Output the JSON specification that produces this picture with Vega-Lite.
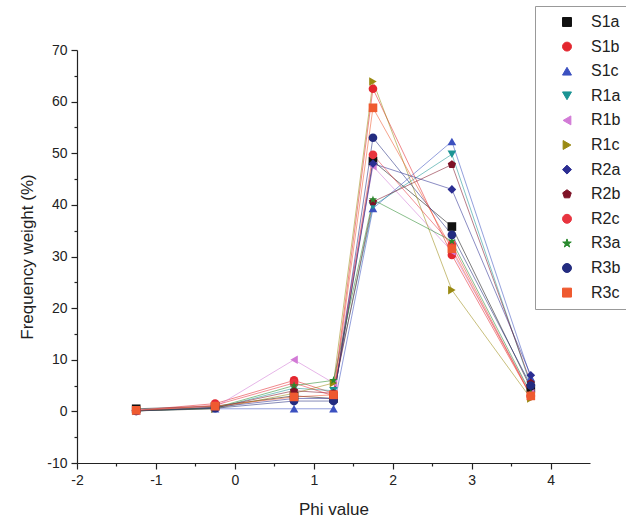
{
  "$schema": "https://vega.github.io/schema/vega-lite/v6.json",
  "autosize": {"type": "none"},
  "padding": {"left": 77, "top": 50, "right": 36, "bottom": 65},
  "width": 513,
  "height": 413,
  "background": "#ffffff",
  "config": {
    "view": {"stroke": null},
    "font": "Liberation Sans",
    "axis": {"domainColor": "#222", "tickColor": "#222", "labelColor": "#222", "titleColor": "#222", "labelFontSize": 14, "titleFontSize": 17, "titleFontWeight": "normal", "grid": false, "domainWidth": 1.2, "tickWidth": 1.2}
  },
  "datasets": {
    "d": [
      {"s":"S1a","x":-1.25,"y":0.5},{"s":"S1a","x":-0.25,"y":1.0},{"s":"S1a","x":0.75,"y":3.0},{"s":"S1a","x":1.25,"y":2.5},{"s":"S1a","x":1.75,"y":48.5},{"s":"S1a","x":2.75,"y":35.8},{"s":"S1a","x":3.75,"y":4.5},
      {"s":"S1b","x":-1.25,"y":0.2},{"s":"S1b","x":-0.25,"y":1.5},{"s":"S1b","x":0.75,"y":6.0},{"s":"S1b","x":1.25,"y":3.5},{"s":"S1b","x":1.75,"y":62.5},{"s":"S1b","x":2.75,"y":30.3},{"s":"S1b","x":3.75,"y":3.0},
      {"s":"S1c","x":-1.25,"y":0.1},{"s":"S1c","x":-0.25,"y":0.5},{"s":"S1c","x":0.75,"y":0.5},{"s":"S1c","x":1.25,"y":0.5},{"s":"S1c","x":1.75,"y":39.3},{"s":"S1c","x":2.75,"y":52.3},{"s":"S1c","x":3.75,"y":6.5},
      {"s":"R1a","x":-1.25,"y":0.1},{"s":"R1a","x":-0.25,"y":0.6},{"s":"R1a","x":0.75,"y":4.5},{"s":"R1a","x":1.25,"y":4.0},{"s":"R1a","x":1.75,"y":39.8},{"s":"R1a","x":2.75,"y":49.8},{"s":"R1a","x":3.75,"y":5.0},
      {"s":"R1b","x":-1.25,"y":0.1},{"s":"R1b","x":-0.25,"y":0.8},{"s":"R1b","x":0.75,"y":10.0},{"s":"R1b","x":1.25,"y":5.5},{"s":"R1b","x":1.75,"y":47.5},{"s":"R1b","x":2.75,"y":31.0},{"s":"R1b","x":3.75,"y":3.5},
      {"s":"R1c","x":-1.25,"y":0.1},{"s":"R1c","x":-0.25,"y":0.5},{"s":"R1c","x":0.75,"y":3.5},{"s":"R1c","x":1.25,"y":5.5},{"s":"R1c","x":1.75,"y":63.9},{"s":"R1c","x":2.75,"y":23.5},{"s":"R1c","x":3.75,"y":2.5},
      {"s":"R2a","x":-1.25,"y":0.2},{"s":"R2a","x":-0.25,"y":0.8},{"s":"R2a","x":0.75,"y":2.5},{"s":"R2a","x":1.25,"y":2.5},{"s":"R2a","x":1.75,"y":48.0},{"s":"R2a","x":2.75,"y":43.0},{"s":"R2a","x":3.75,"y":7.0},
      {"s":"R2b","x":-1.25,"y":0.1},{"s":"R2b","x":-0.25,"y":0.7},{"s":"R2b","x":0.75,"y":4.0},{"s":"R2b","x":1.25,"y":3.5},{"s":"R2b","x":1.75,"y":40.6},{"s":"R2b","x":2.75,"y":47.8},{"s":"R2b","x":3.75,"y":5.5},
      {"s":"R2c","x":-1.25,"y":0.1},{"s":"R2c","x":-0.25,"y":1.2},{"s":"R2c","x":0.75,"y":5.5},{"s":"R2c","x":1.25,"y":3.0},{"s":"R2c","x":1.75,"y":49.7},{"s":"R2c","x":2.75,"y":32.3},{"s":"R2c","x":3.75,"y":3.0},
      {"s":"R3a","x":-1.25,"y":0.1},{"s":"R3a","x":-0.25,"y":0.7},{"s":"R3a","x":0.75,"y":5.0},{"s":"R3a","x":1.25,"y":6.0},{"s":"R3a","x":1.75,"y":41.0},{"s":"R3a","x":2.75,"y":33.0},{"s":"R3a","x":3.75,"y":3.5},
      {"s":"R3b","x":-1.25,"y":0.1},{"s":"R3b","x":-0.25,"y":0.6},{"s":"R3b","x":0.75,"y":2.0},{"s":"R3b","x":1.25,"y":2.0},{"s":"R3b","x":1.75,"y":53.0},{"s":"R3b","x":2.75,"y":34.2},{"s":"R3b","x":3.75,"y":5.0},
      {"s":"R3c","x":-1.25,"y":0.2},{"s":"R3c","x":-0.25,"y":1.0},{"s":"R3c","x":0.75,"y":2.8},{"s":"R3c","x":1.25,"y":3.2},{"s":"R3c","x":1.75,"y":58.8},{"s":"R3c","x":2.75,"y":31.5},{"s":"R3c","x":3.75,"y":3.0}
    ]
  },
  "data": {"name": "d"},
  "encoding": {
    "x": {"field": "x", "type": "quantitative", "scale": {"domain": [-2, 4.5], "nice": false, "zero": false},
      "axis": {"title": "Phi value", "values": [-2,-1.5,-1,-0.5,0,0.5,1,1.5,2,2.5,3,3.5,4], "labelExpr": "datum.value % 1 === 0 ? '' + datum.value : ''", "tickSize": {"condition": {"test": "datum.value % 1 === 0", "value": 6}, "value": 3}, "labelPadding": 4, "titlePadding": 14, "labelFlush": false}},
    "y": {"field": "y", "type": "quantitative", "scale": {"domain": [-10, 70], "nice": false, "zero": false},
      "axis": {"title": "Frequency weight (%)", "values": [-10,-5,0,5,10,15,20,25,30,35,40,45,50,55,60,65,70], "labelExpr": "datum.value % 10 === 0 ? '' + datum.value : ''", "tickSize": {"condition": {"test": "datum.value % 10 === 0", "value": 6}, "value": 3}, "labelPadding": 4, "titlePadding": 10}},
    "color": {
      "field": "s", "type": "nominal",
      "scale": {"domain": ["S1a","S1b","S1c","R1a","R1b","R1c","R2a","R2b","R2c","R3a","R3b","R3c"],
        "range": ["#111111","#e3262e","#3b50c0","#1a9494","#d27ad6","#9a8a12","#2b2d92","#7e1226","#e8343f","#2a8a2e","#232c80","#ef5a30"]},
      "legend": {
        "title": null, "orient": "none", "legendX": 458, "legendY": -44, "strokeColor": "#999", "padding": 8, "labelFontSize": 16, "labelColor": "#222", "symbolSize": 80, "symbolOpacity": 1, "symbolStrokeWidth": 1, "rowPadding": 8.6, "symbolOffset": 16, "labelOffset": 16,
        "encode": {
          "symbols": {
            "update": {
              "strokeWidth": {"value": 1},
              "stroke": {"value": {"expr": "scale('color', datum.value)"}},
              "shape": {"value": {"expr": "{'S1a':'M-3.3,0L3.3,0M-1,-1H1V1H-1Z','S1b':'M-3.3,0L3.3,0M1,0A1,1,0,1,1,-1,0A1,1,0,1,1,1,0Z','S1c':'M-3.3,0L3.3,0M0,-1.1L1.1,0.8L-1.1,0.8Z','R1a':'M-3.3,0L3.3,0M0,1.1L1.1,-0.8L-1.1,-0.8Z','R1b':'M-3.3,0L3.3,0M-1.1,0L0.8,-1.1L0.8,1.1Z','R1c':'M-3.3,0L3.3,0M1.1,0L-0.8,-1.1L-0.8,1.1Z','R2a':'M-3.3,0L3.3,0M0,-1.3L1.3,0L0,1.3L-1.3,0Z','R2b':'M-3.3,0L3.3,0M0,-1.1L1.05,-0.34L0.65,0.9L-0.65,0.9L-1.05,-0.34Z','R2c':'M-3.3,0L3.3,0M1,0A1,1,0,1,1,-1,0A1,1,0,1,1,1,0Z','R3a':'M-3.3,0L3.3,0M0,-1.2L0.27,-0.37L1.14,-0.37L0.44,0.14L0.71,0.97L0,0.46L-0.71,0.97L-0.44,0.14L-1.14,-0.37L-0.27,-0.37Z','R3b':'M-3.3,0L3.3,0M1,0A1,1,0,1,1,-1,0A1,1,0,1,1,1,0Z','R3c':'M-3.3,0L3.3,0M-1,-1H1V1H-1Z'}[datum.value]"}}
            }
          }
        }
      }
    }
  },
  "layer": [
    {"mark": {"type": "line", "strokeWidth": 1, "opacity": 0.55}, "encoding": {"detail": {"field": "s"}}},
    {
      "mark": {"type": "point", "filled": true, "size": 75, "opacity": 1},
      "encoding": {
        "shape": {
          "field": "s", "type": "nominal",
          "scale": {"domain": ["S1a","S1b","S1c","R1a","R1b","R1c","R2a","R2b","R2c","R3a","R3b","R3c"],
            "range": ["square","circle","triangle-up","triangle-down","triangle-left","triangle-right","diamond","M0,-1L0.9511,-0.309L0.5878,0.809L-0.5878,0.809L-0.9511,-0.309Z","circle","M0,-1L0.2245,-0.309L0.9511,-0.309L0.3633,0.118L0.5878,0.809L0,0.382L-0.5878,0.809L-0.3633,0.118L-0.9511,-0.309L-0.2245,-0.309Z","circle","square"]},
          "legend": {
            "title": null, "orient": "none", "legendX": 458, "legendY": -44, "strokeColor": "#999", "padding": 8, "labelFontSize": 16, "labelColor": "#222", "symbolSize": 80, "symbolOpacity": 1, "symbolStrokeWidth": 1, "rowPadding": 8.6, "symbolOffset": 16, "labelOffset": 16,
            "encode": {
              "symbols": {
                "update": {
                  "strokeWidth": {"value": 1},
                  "stroke": {"value": {"expr": "scale('color', datum.value)"}},
                  "shape": {"value": {"expr": "{'S1a':'M-3.3,0L3.3,0M-1,-1H1V1H-1Z','S1b':'M-3.3,0L3.3,0M1,0A1,1,0,1,1,-1,0A1,1,0,1,1,1,0Z','S1c':'M-3.3,0L3.3,0M0,-1.1L1.1,0.8L-1.1,0.8Z','R1a':'M-3.3,0L3.3,0M0,1.1L1.1,-0.8L-1.1,-0.8Z','R1b':'M-3.3,0L3.3,0M-1.1,0L0.8,-1.1L0.8,1.1Z','R1c':'M-3.3,0L3.3,0M1.1,0L-0.8,-1.1L-0.8,1.1Z','R2a':'M-3.3,0L3.3,0M0,-1.3L1.3,0L0,1.3L-1.3,0Z','R2b':'M-3.3,0L3.3,0M0,-1.1L1.05,-0.34L0.65,0.9L-0.65,0.9L-1.05,-0.34Z','R2c':'M-3.3,0L3.3,0M1,0A1,1,0,1,1,-1,0A1,1,0,1,1,1,0Z','R3a':'M-3.3,0L3.3,0M0,-1.2L0.27,-0.37L1.14,-0.37L0.44,0.14L0.71,0.97L0,0.46L-0.71,0.97L-0.44,0.14L-1.14,-0.37L-0.27,-0.37Z','R3b':'M-3.3,0L3.3,0M1,0A1,1,0,1,1,-1,0A1,1,0,1,1,1,0Z','R3c':'M-3.3,0L3.3,0M-1,-1H1V1H-1Z'}[datum.value]"}}
                }
              }
            }
          }
        }
      }
    }
  ]
}
